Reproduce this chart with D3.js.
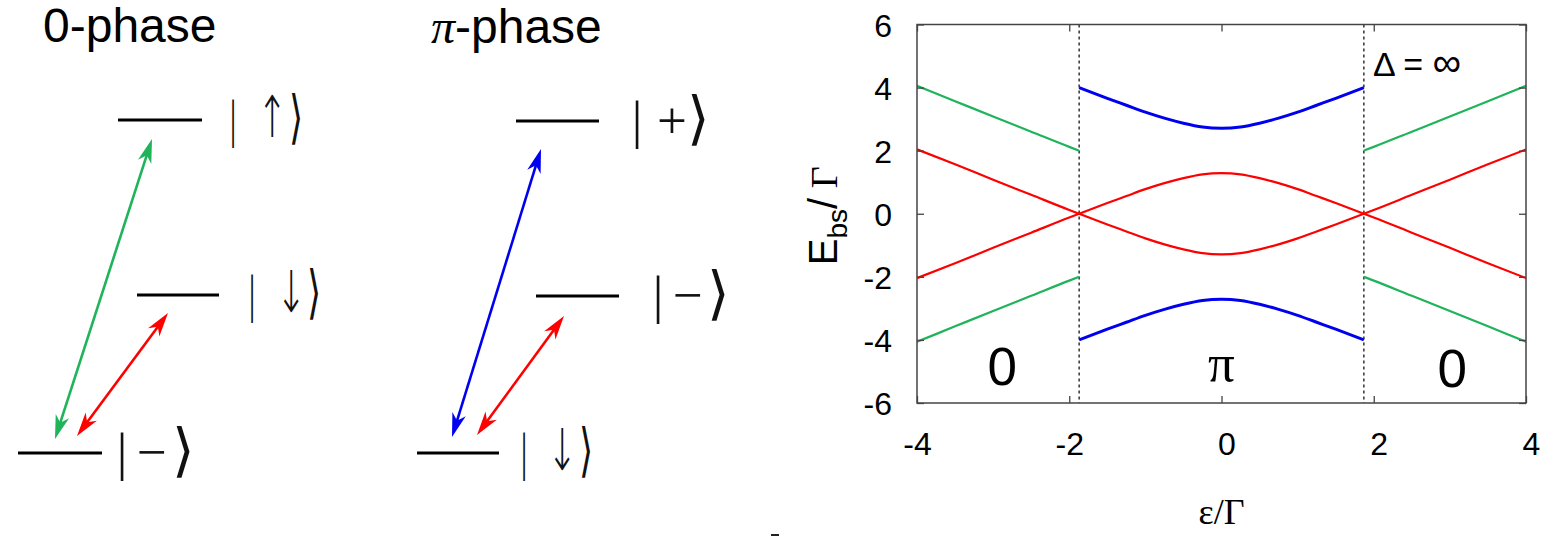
<!DOCTYPE html>
<html>
<head>
<meta charset="utf-8">
<script src="https://cdn.jsdelivr.net/npm/d3@7/dist/d3.min.js"></script>
<style>
  html, body { margin: 0; padding: 0; background: #fff; }
  svg { display: block; }
</style>
</head>
<body>
<script>
// ---------------- DATA ----------------
const xTicks = [-4, -2, 0, 2, 4];
const yTicks = [-6, -4, -2, 0, 2, 4, 6];
const phaseBoundaries = [-1.87, 1.87];
const regionLabels = ["0", "π", "0"];

// 0-phase region, left
const epsLeft = [-4, -3.5, -3, -2.5, -2, -1.87];
const greenLeftUpper = [4.06, 3.57, 3.08, 2.60, 2.12, 2.00];
const greenLeftLower = [-4.06, -3.57, -3.08, -2.60, -2.12, -2.00];
const redLeftDown = [2.04, 1.57, 1.08, 0.60, 0.12, 0.00];
const redLeftUp = [-2.04, -1.57, -1.08, -0.60, -0.12, 0.00];

// 0-phase region, right
const epsRight = [1.87, 2, 2.5, 3, 3.5, 4];
const greenRightUpper = [2.00, 2.12, 2.60, 3.08, 3.57, 4.06];
const greenRightLower = [-2.00, -2.12, -2.60, -3.08, -3.57, -4.06];
const redRightUp = [0.00, 0.12, 0.60, 1.08, 1.57, 2.04];
const redRightDown = [0.00, -0.12, -0.60, -1.08, -1.57, -2.04];

// π-phase region, middle
const epsMid = [-1.87, -1.5, -1.25, -1, -0.75, -0.5, -0.25, 0, 0.25, 0.5, 0.75, 1, 1.25, 1.5, 1.87];
const blueUpper = [4.00, 3.66, 3.44, 3.22, 3.03, 2.87, 2.75, 2.71, 2.75, 2.87, 3.03, 3.22, 3.44, 3.66, 4.00];
const redMidUpper = [0.00, 0.34, 0.56, 0.78, 0.97, 1.13, 1.25, 1.29, 1.25, 1.13, 0.97, 0.78, 0.56, 0.34, 0.00];
const redMidLower = [0.00, -0.34, -0.56, -0.78, -0.97, -1.13, -1.25, -1.29, -1.25, -1.13, -0.97, -0.78, -0.56, -0.34, 0.00];
const blueLower = [-4.00, -3.66, -3.44, -3.22, -3.03, -2.87, -2.75, -2.71, -2.75, -2.87, -3.03, -3.22, -3.44, -3.66, -4.00];

// ---------------- SETUP ----------------
const W = 1553, H = 536;
const GREEN = "#1fb35a", RED = "#ff0000", BLUE = "#0000f0";
const svg = d3.select("body").append("svg").attr("width", W).attr("height", H);
svg.append("rect").attr("width", W).attr("height", H).attr("fill", "#fff");

// ---------------- LEFT DIAGRAMS ----------------
const defs = svg.append("defs");
function marker(id, color) {
  defs.append("marker").attr("id", id)
    .attr("markerUnits", "userSpaceOnUse")
    .attr("viewBox", "-26 -9 28 18")
    .attr("refX", 0).attr("refY", 0)
    .attr("markerWidth", 28).attr("markerHeight", 18)
    .attr("orient", "auto-start-reverse")
    .append("path").attr("d", "M0,0 L-24,-7 L-17,0 L-24,7 Z").attr("fill", color);
}
marker("mG", GREEN); marker("mR", RED); marker("mB", BLUE);

const serif = "'Liberation Serif', 'DejaVu Serif', serif";
const sans = "'Liberation Sans', Arial, sans-serif";
const thin = "'DejaVu Sans ExtraLight', 'DejaVu Sans', sans-serif";

// titles
svg.append("text").attr("x", 43).attr("y", 42).attr("font-family", sans).attr("font-size", 48).text("0-phase");
const t2 = svg.append("text").attr("x", 431).attr("y", 43).attr("font-family", sans).attr("font-size", 48);
t2.append("tspan").attr("font-family", serif).attr("font-style", "italic").text("π");
t2.append("tspan").text("-phase");

function level(x1, x2, y) {
  svg.append("line").attr("x1", x1).attr("x2", x2).attr("y1", y).attr("y2", y)
    .attr("stroke", "#000").attr("stroke-width", 3.2);
}
// ket label: bar, symbol, angle bracket; k = vertical stretch factor
function ket(xBar, xSym, xBr, yLevel, sym, k) {
  const by = yLevel + 17;
  const t = svg.append("text").attr("font-family", serif).attr("fill", "#111")
    .attr("transform", `translate(0,${by}) scale(1,${k})`).attr("y", 0)
    .attr("opacity", 0.999);
  const s1 = t.append("tspan").attr("font-size", 53 / k).text("|");
  const s2 = t.append("tspan").text(sym);
  if (k > 1) s2.attr("font-family", thin).attr("font-weight", 200).attr("font-size", 36);
  else s2.attr("font-size", 53);
  const s3 = t.append("tspan").attr("font-family", thin).attr("font-weight", 200)
    .attr("font-size", 58 / k).text("⟩");
  const w1 = s1.node().getComputedTextLength();
  const w2 = s2.node().getComputedTextLength();
  const w3 = s3.node().getComputedTextLength();
  t.attr("x", xBar - w1 / 2);
  const dx2 = Math.max(0, (xSym - w2 / 2) - (xBar + w1 / 2));
  s2.attr("dx", dx2);
  const symEnd = xBar + w1 / 2 + dx2 + w2;
  const dx3 = Math.max(0, (xBr - w3 / 2) - symEnd);
  s3.attr("dx", dx3);
}
function arrow(x1, y1, x2, y2, color, mid) {
  const dx = x2 - x1, dy = y2 - y1, L = Math.hypot(dx, dy);
  const ux = dx / L, uy = dy / L, s = 8;
  svg.append("line")
    .attr("x1", x1 + ux * s).attr("y1", y1 + uy * s)
    .attr("x2", x2 - ux * s).attr("y2", y2 - uy * s)
    .attr("stroke", color).attr("stroke-width", 2.6);
  svg.append("line")
    .attr("x1", x1).attr("y1", y1).attr("x2", x2).attr("y2", y2)
    .attr("stroke", "none")
    .attr("marker-start", `url(#${mid})`).attr("marker-end", `url(#${mid})`);
}

// 0-phase
level(118, 202, 120); level(137, 219, 295); level(18, 102, 453);
ket(233, 272, 296, 120, "↑", 1.6);
ket(252, 291, 314, 295, "↓", 1.6);
ket(122, 152, 183, 453, "−", 1);
arrow(55, 439, 152, 139, GREEN, "mG");
arrow(77, 436, 168, 313, RED, "mR");

// π-phase
level(516, 599, 121); level(536, 619, 296); level(417, 499, 453);
ket(637, 672, 698, 121, "+", 1);
ket(658, 688, 718, 296, "−", 1);
ket(524, 562, 586, 453, "↓", 1.6);
arrow(452, 437, 541, 149, BLUE, "mB");
arrow(477, 435, 564, 316, RED, "mR");

// small mark at bottom
svg.append("rect").attr("x", 771).attr("y", 534).attr("width", 8).attr("height", 2).attr("fill", "#222");

// ---------------- PLOT ----------------
const x = d3.scaleLinear().domain([-4, 4]).range([917, 1526]);
const y = d3.scaleLinear().domain([-6, 6]).range([403, 24.5]);

const clipId = "plotclip";
defs.append("clipPath").attr("id", clipId).append("rect")
  .attr("x", 917).attr("y", 24.5).attr("width", 609).attr("height", 378.5);

const g = svg.append("g");
const line = d3.line().x(d => x(d[0])).y(d => y(d[1])).curve(d3.curveMonotoneX);
const zip = (xs, ys) => xs.map((v, i) => [v, ys[i]]);

// dashed boundaries
g.selectAll(".bnd").data(phaseBoundaries).enter().append("line")
  .attr("x1", d => x(d)).attr("x2", d => x(d))
  .attr("y1", y(6)).attr("y2", y(-6))
  .attr("stroke", "#333").attr("stroke-width", 1.5).attr("stroke-dasharray", "3,3");

const series = [
  [epsLeft, greenLeftUpper, GREEN, 2.2], [epsLeft, greenLeftLower, GREEN, 2.2],
  [epsLeft, redLeftDown, RED, 2.2], [epsLeft, redLeftUp, RED, 2.2],
  [epsRight, greenRightUpper, GREEN, 2.2], [epsRight, greenRightLower, GREEN, 2.2],
  [epsRight, redRightUp, RED, 2.2], [epsRight, redRightDown, RED, 2.2],
  [epsMid, redMidUpper, RED, 2.2], [epsMid, redMidLower, RED, 2.2],
  [epsMid, blueUpper, BLUE, 3], [epsMid, blueLower, BLUE, 3]
];
const plotG = g.append("g").attr("clip-path", `url(#${clipId})`);
series.forEach(([xs, ys, c, w]) => {
  plotG.append("path").attr("d", line(zip(xs, ys))).attr("fill", "none")
    .attr("stroke", c).attr("stroke-width", w).attr("stroke-linejoin", "round");
});

// axes: ticks inward
const fmt = d => String(d);
const axStyle = sel => {
  sel.attr("font-size", 32).attr("font-family", sans);
  sel.select(".domain").remove();
  sel.selectAll(".tick line").attr("stroke", "#444").attr("stroke-width", 1.3);
  sel.selectAll(".tick text").attr("font-family", sans).attr("font-size", 32).attr("fill", "#000");
};
g.append("g").attr("transform", `translate(0,${y(-6)})`)
  .call(d3.axisBottom(x).tickValues(xTicks).tickSize(-7).tickPadding(0).tickFormat(fmt))
  .call(axStyle)
  .call(s => s.selectAll(".tick text").attr("y", 52).attr("dy", 0).attr("dx", d => d >= 0 ? 5 : 0));
g.append("g").attr("transform", `translate(0,${y(6)})`)
  .call(d3.axisTop(x).tickValues(xTicks).tickSize(-7).tickFormat(""))
  .call(axStyle);
g.append("g").attr("transform", `translate(${x(-4)},0)`)
  .call(d3.axisLeft(y).tickValues(yTicks).tickSize(-7).tickPadding(25).tickFormat(fmt))
  .call(axStyle)
  .call(s => s.selectAll(".tick text").attr("x", -25).attr("dy", "0.36em"));
g.append("g").attr("transform", `translate(${x(4)},0)`)
  .call(d3.axisRight(y).tickValues(yTicks).tickSize(-7).tickFormat(""))
  .call(axStyle);

// frame
g.append("rect").attr("x", x(-4)).attr("y", y(6)).attr("width", x(4) - x(-4)).attr("height", y(-6) - y(6))
  .attr("fill", "none").attr("stroke", "#444").attr("stroke-width", 1.5);

// region labels
const regionPos = [[-2.88, -5.44, sans], [0, -5.3, serif], [3.03, -5.5, sans]];
regionLabels.forEach((lab, i) => {
  g.append("text").attr("x", x(regionPos[i][0])).attr("y", y(regionPos[i][1]))
    .attr("text-anchor", "middle").attr("font-family", regionPos[i][2]).attr("font-size", 53).text(lab);
});

// Δ = ∞
const dl = g.append("text").attr("x", 1373).attr("y", 76).attr("font-family", sans).attr("font-size", 34);
dl.append("tspan").text("Δ = ");
dl.append("tspan").attr("font-size", 40).text("∞");

// axis labels
g.append("text").attr("x", x(0)).attr("y", 524).attr("text-anchor", "middle")
  .attr("font-family", serif).attr("font-size", 36).text("ε/Γ");
const yl = g.append("text").attr("transform", `translate(837,${y(0) + 2}) rotate(-90)`)
  .attr("text-anchor", "middle").attr("font-family", sans).attr("font-size", 40);
yl.append("tspan").text("E");
yl.append("tspan").attr("font-size", 28).attr("dy", 10).text("bs");
yl.append("tspan").attr("dy", -10).text("/");
yl.append("tspan").attr("font-family", serif).attr("font-size", 38).text(" Γ");
</script>
</body>
</html>
